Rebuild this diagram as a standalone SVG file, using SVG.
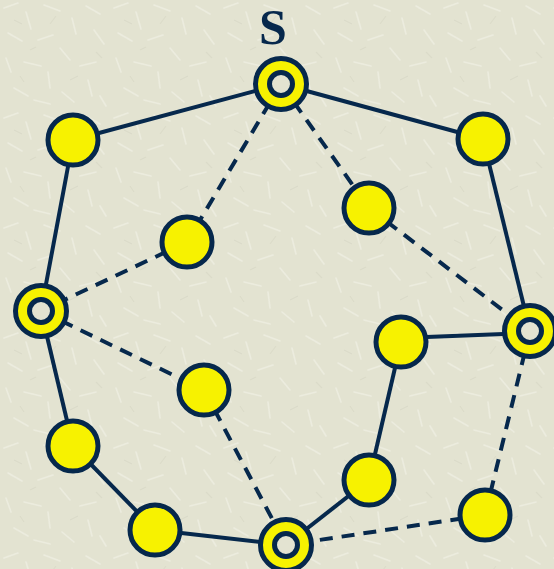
<svg xmlns="http://www.w3.org/2000/svg" width="554" height="569" viewBox="0 0 554 569">
<defs>
<pattern id="tex" width="110" height="110" patternUnits="userSpaceOnUse">
<rect width="110" height="110" fill="#e3e3d1"/>
<g stroke="#efefe3" stroke-width="1.6" stroke-linecap="round" opacity="0.75">
<line x1="4" y1="8" x2="18" y2="3"/><line x1="26" y1="12" x2="31" y2="29"/><line x1="44" y1="5" x2="60" y2="11"/>
<line x1="72" y1="18" x2="76" y2="34"/><line x1="8" y1="33" x2="22" y2="41"/><line x1="38" y1="40" x2="53" y2="35"/>
<line x1="86" y1="6" x2="100" y2="14"/><line x1="94" y1="30" x2="104" y2="44"/><line x1="60" y1="48" x2="70" y2="60"/>
<line x1="6" y1="58" x2="11" y2="72"/><line x1="24" y1="62" x2="41" y2="66"/><line x1="48" y1="72" x2="50" y2="88"/>
<line x1="80" y1="66" x2="96" y2="62"/><line x1="88" y1="80" x2="92" y2="96"/><line x1="14" y1="88" x2="28" y2="96"/>
<line x1="34" y1="100" x2="50" y2="104"/><line x1="62" y1="92" x2="74" y2="102"/><line x1="100" y1="96" x2="106" y2="106"/>
</g>
<g stroke="#d6d6c3" stroke-width="1.2" opacity="0.6">
<line x1="14" y1="20" x2="22" y2="24"/><line x1="50" y1="24" x2="56" y2="16"/><line x1="30" y1="50" x2="36" y2="47"/>
<line x1="70" y1="80" x2="78" y2="76"/><line x1="96" y1="52" x2="102" y2="58"/><line x1="20" y1="76" x2="24" y2="82"/>
</g>
</pattern>
<style>
.e{stroke:#06284c;stroke-width:4;fill:none}
.d{stroke-dasharray:13 9}
.n{fill:#f7f200;stroke:#06284c;stroke-width:5}
.h{fill:#e3e3d1;stroke:#06284c;stroke-width:5}
.lbl{font-family:"Liberation Serif",serif;font-weight:bold;font-size:50px;fill:#06284c}
</style>
</defs>
<rect width="554" height="569" fill="url(#tex)"/>
<text class="lbl" x="273" y="44" text-anchor="middle">S</text>
<g id="edges">
<line class="e" x1="281" y1="84" x2="73" y2="140"/>
<line class="e" x1="281" y1="84" x2="483" y2="139"/>
<line class="e" x1="73" y1="140" x2="41" y2="311"/>
<line class="e" x1="483" y1="139" x2="530" y2="331"/>
<line class="e" x1="41" y1="311" x2="73" y2="446"/>
<line class="e" x1="73" y1="446" x2="155" y2="530"/>
<line class="e" x1="155" y1="530" x2="286" y2="545"/>
<line class="e" x1="286" y1="545" x2="369" y2="480"/>
<line class="e" x1="369" y1="480" x2="401" y2="342"/>
<line class="e" x1="401" y1="338" x2="530" y2="333"/>
<line class="e d" x1="281" y1="84" x2="187" y2="242"/>
<line class="e d" x1="187" y1="242" x2="41" y2="311"/>
<line class="e d" x1="281" y1="84" x2="369" y2="208"/>
<line class="e d" x1="369" y1="208" x2="530" y2="331"/>
<line class="e d" x1="41" y1="311" x2="204" y2="390"/>
<line class="e d" x1="204" y1="390" x2="286" y2="545"/>
<line class="e d" x1="530" y1="331" x2="485" y2="515"/>
<line class="e d" x1="485" y1="515" x2="286" y2="545"/>
</g>
<g id="S"><circle class="n" cx="281" cy="84" r="25.5"/><circle class="h" cx="281" cy="84" r="11.5"/></g>
<g id="A"><circle class="n" cx="73" cy="140" r="25"/></g>
<g id="B"><circle class="n" cx="483" cy="139" r="25"/></g>
<g id="C"><circle class="n" cx="369" cy="208" r="25"/></g>
<g id="D"><circle class="n" cx="187" cy="242" r="25"/></g>
<g id="E"><circle class="n" cx="41" cy="311" r="25.5"/><circle class="h" cx="41" cy="311" r="11.5"/></g>
<g id="F"><circle class="n" cx="530" cy="331" r="25.5"/><circle class="h" cx="530" cy="331" r="11.5"/></g>
<g id="G"><circle class="n" cx="401" cy="342" r="25"/></g>
<g id="H"><circle class="n" cx="204" cy="390" r="25"/></g>
<g id="I"><circle class="n" cx="73" cy="446" r="25"/></g>
<g id="J"><circle class="n" cx="369" cy="480" r="25"/></g>
<g id="K"><circle class="n" cx="485" cy="515" r="25"/></g>
<g id="L"><circle class="n" cx="155" cy="530" r="25"/></g>
<g id="M"><circle class="n" cx="286" cy="545" r="25.5"/><circle class="h" cx="286" cy="545" r="11.5"/></g>
</svg>
